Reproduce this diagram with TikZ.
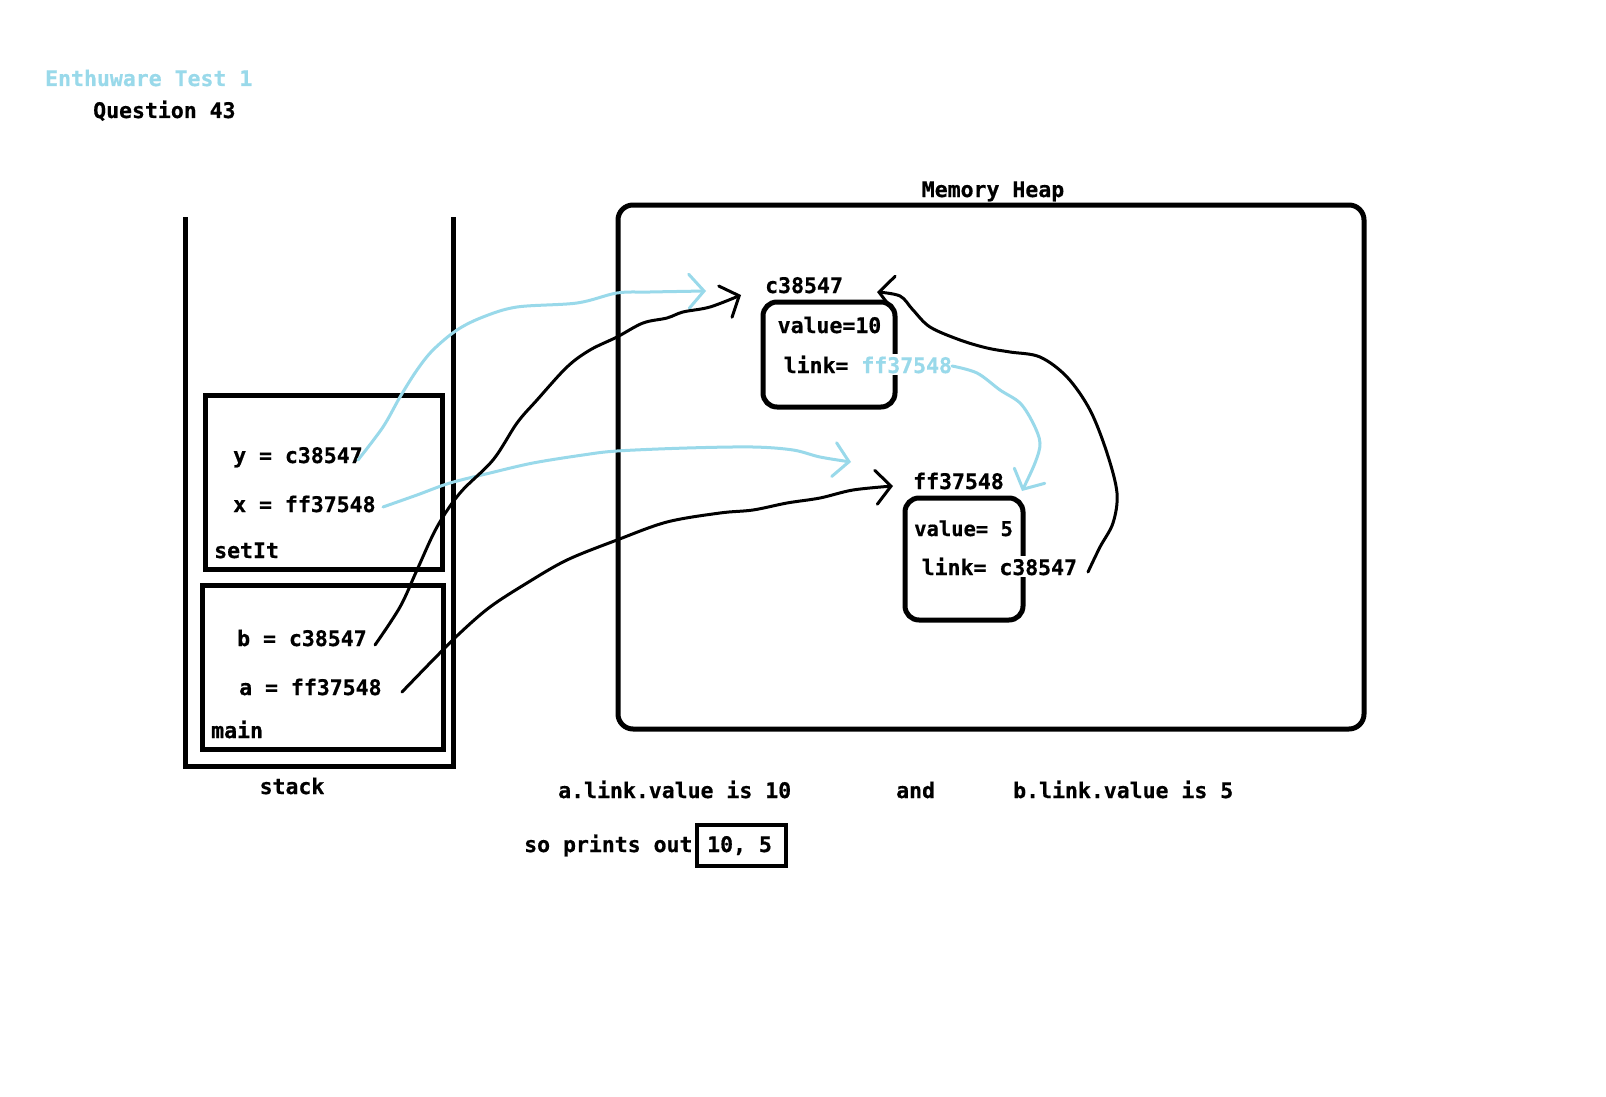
\documentclass[tikz,border=0pt]{standalone}
\usepackage{fontspec}
\newfontfamily\cons{DejaVu Sans Mono}[BoldFeatures={FakeBold=0.6}]
\usetikzlibrary{arrows.meta}
\definecolor{lblue}{HTML}{99D9EA}
\tikzset{
  txt/.style={anchor=base west, inner sep=0pt, font=\cons\fontsize{21.5}{25}\selectfont\bfseries},
  ctxt/.style={txt, anchor=base},
  wtxt/.style={txt, fill=white, inner sep=1.5pt},
  frame/.style={line width=5pt},
  conn/.style={line width=3pt, line cap=round, line join=round,
    -{Straight Barb[length=15pt,width=34pt,line cap=round]}},
  bconn/.style={conn, draw=lblue},
}
\begin{document}
\begin{tikzpicture}[x=1pt,y=-1pt]
\useasboundingbox[fill=white] (0,0) rectangle (1606,1097);

% titles
\node[txt, text=lblue] (title) at (45,86) {Enthuware Test 1};
\node[txt] (question) at (93,118) {Question 43};

% stack
\draw[frame] (185,217) -- (185,766) -- (453,766) -- (453,217);
\node[ctxt] (stacklbl) at (292,794) {stack};
\draw[frame] (205,395) rectangle (442,569);
\draw[frame] (202,585) rectangle (443,749);
\node[txt] (yv) at (233,463) {y = c38547};
\node[txt] (xv) at (233,512) {x = ff37548};
\node[txt] (setit) at (214,558) {setIt};
\node[txt] (bv) at (237,646) {b = c38547};
\node[txt] (av) at (239,695) {a = ff37548};
\node[txt] (mainlbl) at (211,738) {main};

% heap
\draw[frame, rounded corners=15pt] (618,205) rectangle (1364,729);
\node[ctxt] (heaplbl) at (993,197) {Memory Heap};

\draw[frame, rounded corners=14pt] (763,302) rectangle (895,407);
\node[txt] (clbl) at (765,293) {c38547};
\node[wtxt] (cval) at (776,333) {value=10};
\node[wtxt] (clink) at (782,373) {link= \textcolor{lblue}{ff37548}};

\draw[frame, rounded corners=14pt] (905,498) rectangle (1023,620);
\node[txt] (flbl) at (913,489) {ff37548};
\node[txt, font=\cons\fontsize{20.5}{25}\selectfont\bfseries] (fval) at (914,536) {value= 5};
\node[wtxt] (flink) at (920,575) {link= c38547};

% result text
\node[txt] (alink) at (558,798) {a.link.value is 10};
\node[txt] (andlbl) at (896,798) {and};
\node[txt] (blink) at (1013,798) {b.link.value is 5};
\node[txt] (so) at (524,852) {so prints out};
\draw[line width=4.5pt] (697,825) rectangle (786,866);
\node[txt] (res) at (707,852) {10, 5};

% connector endpoints
\coordinate (ys) at (358,460);
\coordinate (xs) at (383,507);
\coordinate (bs) at (375,645);
\coordinate (as) at (402,692);
\coordinate (ls) at (952,366);
\coordinate (fs) at (1088,572);
\coordinate (t1) at (706,291);
\coordinate (t2) at (851,462);
\coordinate (t3) at (741,295);
\coordinate (t4) at (893,486);
\coordinate (t5) at (1022,491);
\coordinate (t6) at (877,292);

\draw[bconn] plot[smooth, tension=0.55] coordinates {(ys) (383,427) (400,397) (417,370) (433,350) (457,330) (483,317) (517,307) (577,303) (617,293) (650,292) (t1)};
\draw[bconn] plot[smooth, tension=0.55] coordinates {(xs) (417,495) (450,483) (490,473) (533,463) (583,455) (617,451) (687,448) (753,447) (793,450) (820,457) (t2)};
\draw[conn] plot[smooth, tension=0.55] coordinates {(bs) (400,607) (417,570) (437,527) (460,493) (493,460) (517,423) (537,400) (567,367) (590,350) (617,337) (643,323) (667,318) (683,312) (710,307) (t3)};
\draw[conn] plot[smooth, tension=0.55] coordinates {(as) (433,660) (460,633) (490,607) (527,583) (567,560) (617,540) (667,522) (720,513) (753,510) (787,503) (820,498) (853,490) (t4)};
\draw[bconn] plot[smooth, tension=0.55] coordinates {(ls) (977,373) (1000,390) (1020,403) (1033,423) (1040,443) (1035,463) (t5)};
\draw[conn] plot[smooth, tension=0.55] coordinates {(fs) (1100,547) (1113,523) (1117,493) (1107,453) (1090,410) (1067,377) (1040,357) (1010,352) (987,348) (960,340) (930,327) (913,310) (900,296) (t6)};
\end{tikzpicture}
\end{document}
